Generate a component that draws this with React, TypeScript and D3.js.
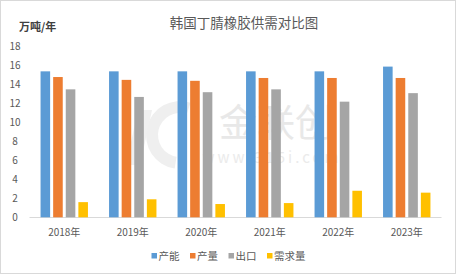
import React from "react";
import * as d3 from "d3";

const categories = ["2018年", "2019年", "2020年", "2021年", "2022年", "2023年"];
const seriesNames = ["产能", "产量", "出口", "需求量"];
const capacity = [15.4, 15.4, 15.4, 15.4, 15.4, 15.9];
const production = [14.8, 14.5, 14.4, 14.7, 14.7, 14.7];
const exportsVal = [13.5, 12.7, 13.2, 13.5, 12.2, 13.1];
const demand = [1.6, 1.9, 1.4, 1.5, 2.8, 2.6];
const yTicks = [0, 2, 4, 6, 8, 10, 12, 14, 16, 18];
const colors = ["#5B9BD5", "#ED7D31", "#A5A5A5", "#FFC000"];

const W = 456;
const H = 274;
const font = "'Microsoft YaHei', 'Noto Sans CJK SC', 'Liberation Sans', sans-serif";

export default function App() {
  const seriesData = [capacity, production, exportsVal, demand];
  const x0 = d3
    .scaleBand<string>()
    .domain(categories)
    .range([30, 441])
    .paddingInner(0.308)
    .paddingOuter(0.154);
  const x1 = d3
    .scaleBand<string>()
    .domain(seriesNames)
    .range([0, x0.bandwidth()])
    .paddingInner(0.24)
    .paddingOuter(0);
  const y = d3.scaleLinear().domain([0, 18]).range([217.3, 46.7]);

  const legendX = [151.5, 190, 228.5, 267];

  const logoArc = d3
    .arc()
    .innerRadius(22)
    .outerRadius(34)
    .startAngle(Math.PI * 1.05)
    .endAngle(Math.PI * 2.1)({} as any) as string;

  return (
    <svg
      width={W}
      height={H}
      style={{ position: "absolute", left: 0, top: 0, fontFamily: font }}
    >
      <rect x={0.5} y={0.5} width={W - 1} height={H - 1} fill="#fff" stroke="#d9d9d9" />
      {/* watermark */}
      <g>
        <path d={logoArc} transform="translate(180,135)" fill="#efefef" />
        <path d="M138,110 L152,110 L140,165 L126,165 Z" fill="#f0f0f0" />
        <text x={276} y={136} fontSize={38} textAnchor="middle" fill="#e8e8e8">
          金联创
        </text>
        <text x={272} y={163} fontSize={15} textAnchor="middle" fill="#ebebeb" letterSpacing={3}>
          www.315i.com
        </text>
      </g>
      <text x={244} y={28} fontSize={13.5} fill="#595959" textAnchor="middle">
        韩国丁腈橡胶供需对比图
      </text>
      <text x={19} y={31} fontSize={11} fill="#404040" fontWeight="bold">
        万吨/年
      </text>
      {yTicks.map((t) => (
        <text
          key={t}
          x={15}
          y={y(t)}
          dy="0.35em"
          fontSize={10}
          fill="#595959"
          textAnchor="middle"
        >
          {t}
        </text>
      ))}
      <line x1={29.5} x2={441.5} y1={217.5} y2={217.5} stroke="#d9d9d9" />
      {categories.map((c, i) => (
        <g key={c}>
          {seriesData.map((s, j) => (
            <rect
              key={j}
              x={(x0(c) ?? 0) + (x1(seriesNames[j]) ?? 0)}
              y={y(s[i])}
              width={x1.bandwidth()}
              height={y(0) - y(s[i])}
              fill={colors[j]}
            />
          ))}
          <text
            x={(x0(c) ?? 0) + x0.bandwidth() / 2}
            y={232}
            dy="0.35em"
            fontSize={10}
            fill="#595959"
            textAnchor="middle"
          >
            {c}
          </text>
        </g>
      ))}
      {seriesNames.map((n, j) => (
        <g key={n}>
          <rect x={legendX[j]} y={253} width={5.5} height={5.5} fill={colors[j]} />
          <text x={legendX[j] + 7} y={256} dy="0.35em" fontSize={10.5} fill="#595959">
            {n}
          </text>
        </g>
      ))}
    </svg>
  );
}
